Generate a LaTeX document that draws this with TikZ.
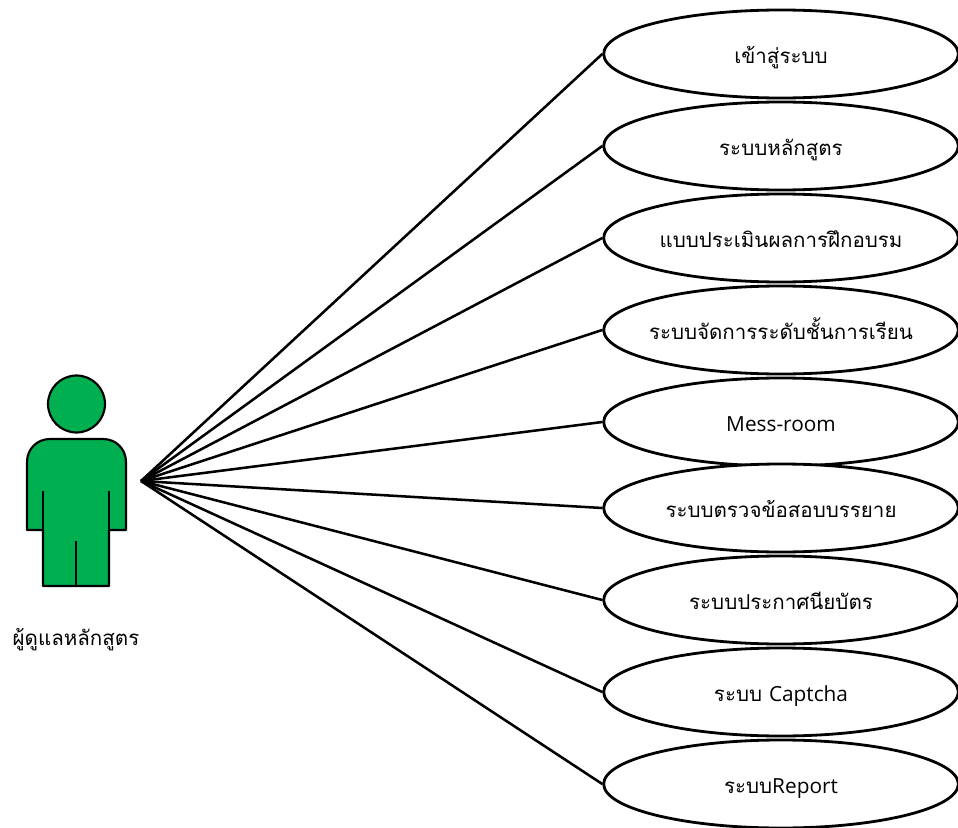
\documentclass[tikz,border=0pt]{standalone}
\usepackage{fontspec}
\usetikzlibrary{shapes.geometric}
\newfontfamily\thaifont[Script=Thai]{Loma}
\newfontfamily\latinfont{Open Sans}
\definecolor{figgreen}{HTML}{00B050}
\tikzset{
  usecase/.style={ellipse,draw=black,fill=white,line width=2.1pt,minimum width=266pt,minimum height=66pt,inner sep=0pt},
  caselabel/.style={inner sep=0pt,anchor=base,font=\thaifont\fontsize{15.4}{18}\selectfont},
  link/.style={draw=black,line width=1.9pt},
  figure/.style={draw=black,line width=1.6pt,fill=figgreen,line join=round},
  figline/.style={draw=black,line width=1.6pt},
}
\newcommand{\lat}[1]{{\latinfont\fontsize{15.6}{18}\selectfont #1}}
\begin{document}
\begin{tikzpicture}[x=0.75pt,y=-0.75pt]
\useasboundingbox (0,0) rectangle (958,828);
\coordinate (apex) at (141,481);
\foreach \n/\yy/\t in {
 u1/54/{เข้าสู่ระบบ},
 u2/146/{ระบบหลักสูตร},
 u3/238/{แบบประเมินผลการฝึกอบรม},
 u4/330/{ระบบจัดการระดับชั้นการเรียน},
 u5/422/{\lat{Mess-room}},
 u6/508/{ระบบตรวจข้อสอบบรรยาย},
 u7/600/{ระบบประกาศนียบัตร},
 u8/692/{ระบบ \lat{Captcha}},
 u9/784/{ระบบ\lat{Report}}}{
  \node[usecase] (\n) at (781,\yy) {};
  \node[caselabel] (\n-text) at ([yshift=-6.9pt]\n.center) {\t};
  \draw[link] (apex) -- (\n.west);
}
% actor
\draw[figure] (76.5,404) circle[radius=28.5];
\draw[figure] (43,586) -- (43,530) -- (27,530) -- (27,462)
  .. controls (27,449) and (37,439) .. (50,439) -- (103,439)
  .. controls (116,439) and (126,449) .. (126,462) -- (126,530) -- (109,530) -- (109,586) -- cycle;
\draw[figline] (43,530) -- (43,491);
\draw[figline] (109,530) -- (109,491);
\draw[figline] (76,586) -- (76,541);
\node[caselabel] (actor) at (76,645) {ผู้ดูแลหลักสูตร};
\end{tikzpicture}
\end{document}
